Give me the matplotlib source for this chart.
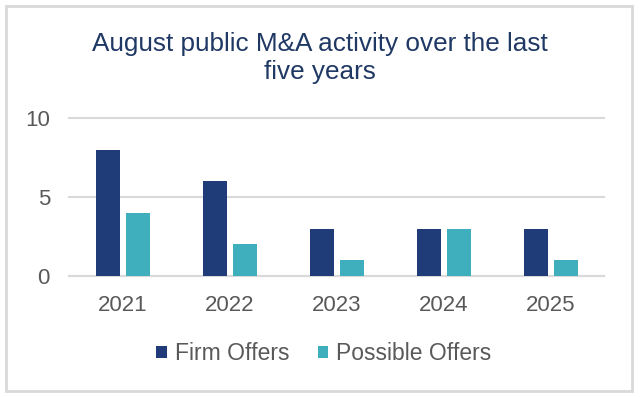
import matplotlib.pyplot as plt
import numpy as np
from matplotlib.patches import Rectangle

years = ["2021", "2022", "2023", "2024", "2025"]
firm_offers = [8, 6, 3, 3, 3]
possible_offers = [4, 2, 1, 3, 1]

navy = "#1F3B78"
teal = "#3FAFBD"
grey_text = "#595959"

plt.rcParams["font.family"] = ["Liberation Sans", "DejaVu Sans"]

fig = plt.figure(figsize=(6.4, 3.97), dpi=100)
W, H = 640, 397
ax = fig.add_axes([69.4 / W, 1 - 276 / H, 535 / W, 158 / H])

x = np.arange(len(years))
ax.bar(x - 0.143, firm_offers, width=0.224, color=navy, label="Firm Offers", zorder=3)
ax.bar(x + 0.143, possible_offers, width=0.224, color=teal, label="Possible Offers", zorder=3)

ax.set_xlim(-0.5, len(years) - 0.5)
ax.set_ylim(0, 10)
ax.set_yticks([0, 5, 10])
ax.set_xticks(x)
ax.set_xticklabels(years)
ax.yaxis.grid(True, color="#D9D9D9", linewidth=1.5, zorder=0)
for gl in ax.get_ygridlines():
    gl.set_clip_on(False)
ax.set_axisbelow(True)
for s in ["top", "right", "left"]:
    ax.spines[s].set_visible(False)
ax.spines["bottom"].set_color("#D9D9D9")
ax.spines["bottom"].set_linewidth(1.5)
ax.tick_params(axis="both", length=0, labelsize=16, colors=grey_text)
ax.tick_params(axis="x", pad=14)
ax.tick_params(axis="y", pad=14)

fig.text(0.5, 1 - 58 / H, "August public M&A activity over the last\nfive years",
         ha="center", va="center", fontsize=18.8, color="#1F3864", linespacing=1.17)

fig.legend(loc="center", bbox_to_anchor=(0.5 + 4 / W, 1 - 354 / H), ncol=2, frameon=False,
           fontsize=16.5, labelcolor=grey_text, handlelength=0.45, handleheight=0.45,
           handletextpad=0.35, columnspacing=1.25)

fig.patches.append(Rectangle((6 / W, 1 - 391 / H), 626 / W, 385 / H,
                             transform=fig.transFigure, fill=False,
                             edgecolor="#D9D9D9", linewidth=2))

fig.savefig("out.png", dpi=100)
